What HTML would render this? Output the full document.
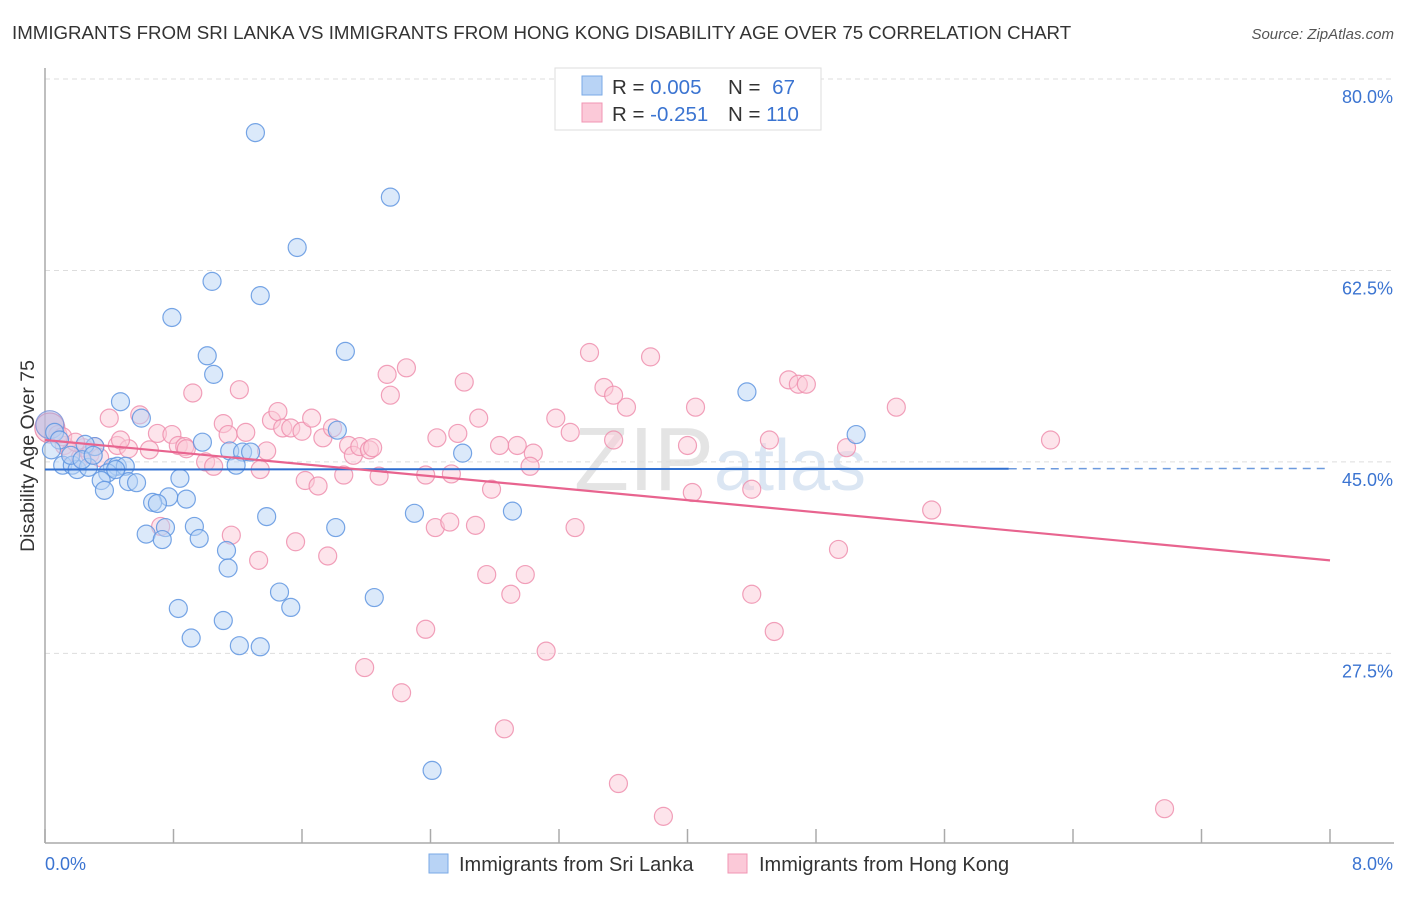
<!DOCTYPE html>
<html><head><meta charset="utf-8"><style>
body{margin:0;background:#fff;font-family:"Liberation Sans",sans-serif;}
svg text{font-family:"Liberation Sans",sans-serif;}
</style></head><body>
<svg id="chart" width="1406" height="892" viewBox="0 0 1406 892">
<text x="12" y="39" font-size="18.7" fill="#333">IMMIGRANTS FROM SRI LANKA VS IMMIGRANTS FROM HONG KONG DISABILITY AGE OVER 75 CORRELATION CHART</text>
<text x="1394" y="39" font-size="15" fill="#555" font-style="italic" text-anchor="end">Source: ZipAtlas.com</text>
<text x="720" y="490" font-size="90" fill="#e6e6e6" text-anchor="middle" font-family="Liberation Serif"><tspan fill="#e4e4e4">ZIP</tspan><tspan fill="#dbe6f3" font-family="Liberation Sans" font-size="72">atlas</tspan></text>
<g id="grid"></g>
<g id="axes"></g>
<g id="marks"></g>
<g id="trends"></g>
<text transform="translate(34,456) rotate(-90)" font-size="19.5" fill="#333" text-anchor="middle">Disability Age Over 75</text>
<g>
<rect x="555" y="68" width="266" height="62" fill="#fff" stroke="#ddd"/>
<rect x="582" y="76" width="20" height="19" fill="#b8d3f5" stroke="#7aaae6"/>
<rect x="582" y="103" width="20" height="19" fill="#fbc9d8" stroke="#f095b3"/>
<text x="612" y="94" font-size="20.5" fill="#333">R = <tspan fill="#3b74d1">0.005</tspan></text>
<text x="728" y="94" font-size="20.5" fill="#333">N = <tspan fill="#3b74d1" dx="6">67</tspan></text>
<text x="612" y="121" font-size="20.5" fill="#333">R = <tspan fill="#3b74d1">-0.251</tspan></text>
<text x="728" y="121" font-size="20.5" fill="#333">N = <tspan fill="#3b74d1">110</tspan></text>
</g>
<g>
<rect x="429" y="854" width="19" height="19" fill="#b8d3f5" stroke="#7aaae6"/>
<text x="459" y="871" font-size="20" fill="#333">Immigrants from Sri Lanka</text>
<rect x="728" y="854" width="19" height="19" fill="#fbc9d8" stroke="#f095b3"/>
<text x="759" y="871" font-size="20" fill="#333">Immigrants from Hong Kong</text>
</g>
</svg>
<script>
const yTicks=[80,62.5,45,27.5];
const yTickLabels=["80.0%","62.5%","45.0%","27.5%"];
const xTicks=[0,0.8,1.6,2.4,3.2,4,4.8,5.6,6.4,7.2,8];
const xEndLabels=["0.0%","8.0%"];
const blueX=[1.31,2.15,1.57,1.04,1.34,0.79,1.87,1.01,1.05,0.47,0.60,4.37,5.05,1.15,1.23,1.28,0.98,2.60,0.31,0.25,0.11,0.17,0.20,0.27,0.42,0.45,0.50,0.39,0.35,0.52,0.57,0.37,0.84,1.19,0.77,0.88,0.67,0.70,0.93,0.75,0.63,0.73,0.96,1.38,1.81,2.30,2.91,1.13,1.14,1.46,1.53,2.05,0.83,1.11,0.91,1.21,1.34,2.41,0.06,0.09,1.82,0.16,0.23,0.30,0.44,0.04];
const blueY=[75.1,69.2,64.6,61.5,60.2,58.2,55.1,54.7,53.0,50.5,49.0,51.4,47.5,46.0,45.9,45.9,46.8,45.8,46.4,46.6,44.7,44.7,44.3,44.5,44.5,44.6,44.6,44.0,43.3,43.2,43.1,42.4,43.5,44.7,41.8,41.6,41.3,41.2,39.1,39.0,38.4,37.9,38.0,40.0,39.0,40.3,40.5,36.9,35.3,33.1,31.7,32.6,31.6,30.5,28.9,28.2,28.1,16.8,47.7,47.0,47.9,45.6,45.2,45.6,44.3,46.1];
const pinkX=[0.08,0.12,0.16,0.22,0.31,0.40,0.45,0.52,0.47,0.59,0.65,0.70,0.79,0.83,0.87,0.88,0.92,1.00,1.05,1.11,1.14,1.21,1.25,1.34,1.38,1.41,1.45,1.48,1.53,1.60,1.66,1.73,1.79,1.89,1.92,1.96,2.02,2.04,2.08,2.13,2.15,2.25,1.62,1.70,1.56,1.76,1.33,1.16,1.86,1.99,2.22,2.37,2.44,2.57,2.61,2.70,2.78,2.94,3.04,3.02,2.43,2.52,2.68,2.75,2.90,2.99,3.12,2.86,3.18,3.27,3.30,3.39,3.48,3.54,3.62,3.54,3.77,4.00,4.03,4.05,4.40,4.40,4.51,4.54,4.63,4.69,4.74,4.99,4.94,5.30,5.52,6.26,6.97,3.85,3.57,2.37,2.53,2.83,0.24,0.11,0.19,0.28,0.34,0.72];
const pinkY=[47.5,46.5,45.9,45.4,46.4,49.0,46.5,46.2,47.0,49.3,46.1,47.6,47.5,46.5,46.4,46.2,51.3,45.0,44.6,48.5,47.5,51.6,47.7,44.3,46.0,48.8,49.6,48.1,48.1,47.8,49.0,47.2,48.1,46.5,45.6,46.4,46.1,46.3,43.7,53.0,51.1,53.6,43.3,42.8,37.7,36.4,36.0,38.3,43.8,26.2,23.9,29.7,47.2,47.6,52.3,49.0,42.5,46.5,45.8,44.6,39.0,39.5,39.2,34.7,32.9,34.7,27.7,20.6,49.0,47.7,39.0,55.0,51.8,47.0,50.0,51.1,54.6,46.5,42.2,50.0,42.5,32.9,47.0,29.5,52.5,52.1,52.1,46.3,37.0,50.0,40.6,47.0,13.3,12.6,15.6,43.8,43.9,46.5,46.3,47.3,46.8,45.7,45.4,39.1];
const bigBlue=[0.03,48.4];
const bigPink=[0.03,48.1];
const blueTrend=[44.3,44.4];
const blueSolidEnd=6.0;
const pinkTrend=[47.0,36.0];

const NS="http://www.w3.org/2000/svg";
const X0=45,X1=1330,Ytop=79,Ppp=10.94;
function xs(v){return X0+(v/8)*(X1-X0);}
function ys(v){return Ytop+(80-v)*Ppp;}
function mk(tag,attrs,parent){const e=document.createElementNS(NS,tag);for(const k in attrs)e.setAttribute(k,attrs[k]);parent.appendChild(e);return e;}
const grid=document.getElementById('grid'),axes=document.getElementById('axes'),marks=document.getElementById('marks'),trends=document.getElementById('trends');
yTicks.forEach((t,i)=>{
 const l=mk('line',{x1:X0,x2:1394,y1:ys(t),y2:ys(t),stroke:'#ddd','stroke-dasharray':'5,4'},grid);
 
 
 const tx=mk('text',{x:1393,y:ys(t)+24,'font-size':18,fill:'#3b74d1','text-anchor':'end'},axes);
 tx.textContent=yTickLabels[i];
 
 
});
const ya=mk('line',{x1:X0,x2:X0,y1:68,y2:843,stroke:'#aaa','stroke-width':1.5},axes);


const xa=mk('line',{x1:X0,x2:1394,y1:843,y2:843,stroke:'#aaa','stroke-width':1.5},axes);


xTicks.forEach(t=>{
 const l=mk('line',{x1:xs(t),x2:xs(t),y1:829,y2:843,stroke:'#aaa','stroke-width':1.5},axes);
 
 
});
const xl0=mk('text',{x:45,y:870,'font-size':18,fill:'#3b74d1'},axes);
xl0.textContent=xEndLabels[0];


const xl1=mk('text',{x:1393,y:870,'font-size':18,fill:'#3b74d1','text-anchor':'end'},axes);
xl1.textContent=xEndLabels[1];



function dot(x,y,r,fill,stroke,name){
 const c=mk('circle',{cx:xs(x),cy:ys(y),r:r,fill:fill,'fill-opacity':0.5,stroke:stroke,'stroke-opacity':0.85,'stroke-width':1.2},marks);
 
 
}
dot(bigPink[0],bigPink[1],15,'#f7b7cb','#e886a6','point-hong-kong-large');
pinkX.forEach((x,i)=>dot(x,pinkY[i],9,'#fbc9d8','#ee8fae','point-hong-kong'));
dot(bigBlue[0],bigBlue[1],14,'#a9b8e6','#7f95d8','point-sri-lanka-large');
blueX.forEach((x,i)=>dot(x,blueY[i],9,'#b8d3f5','#5f95e0','point-sri-lanka'));

const slope=(blueTrend[1]-blueTrend[0])/8;
const bMid=blueTrend[0]+slope*blueSolidEnd;
const bt=mk('line',{x1:xs(0),y1:ys(blueTrend[0]),x2:xs(blueSolidEnd),y2:ys(bMid),stroke:'#2f6fd0','stroke-width':2},trends);


const bd=mk('line',{x1:xs(blueSolidEnd),y1:ys(bMid),x2:xs(8),y2:ys(blueTrend[1]),stroke:'#2f6fd0','stroke-width':1.5,'stroke-dasharray':'8,6','stroke-opacity':0.7},trends);


const pt=mk('line',{x1:xs(0),y1:ys(pinkTrend[0]),x2:xs(8),y2:ys(pinkTrend[1]),stroke:'#e8648f','stroke-width':2.2},trends);


</script>
</body></html>
